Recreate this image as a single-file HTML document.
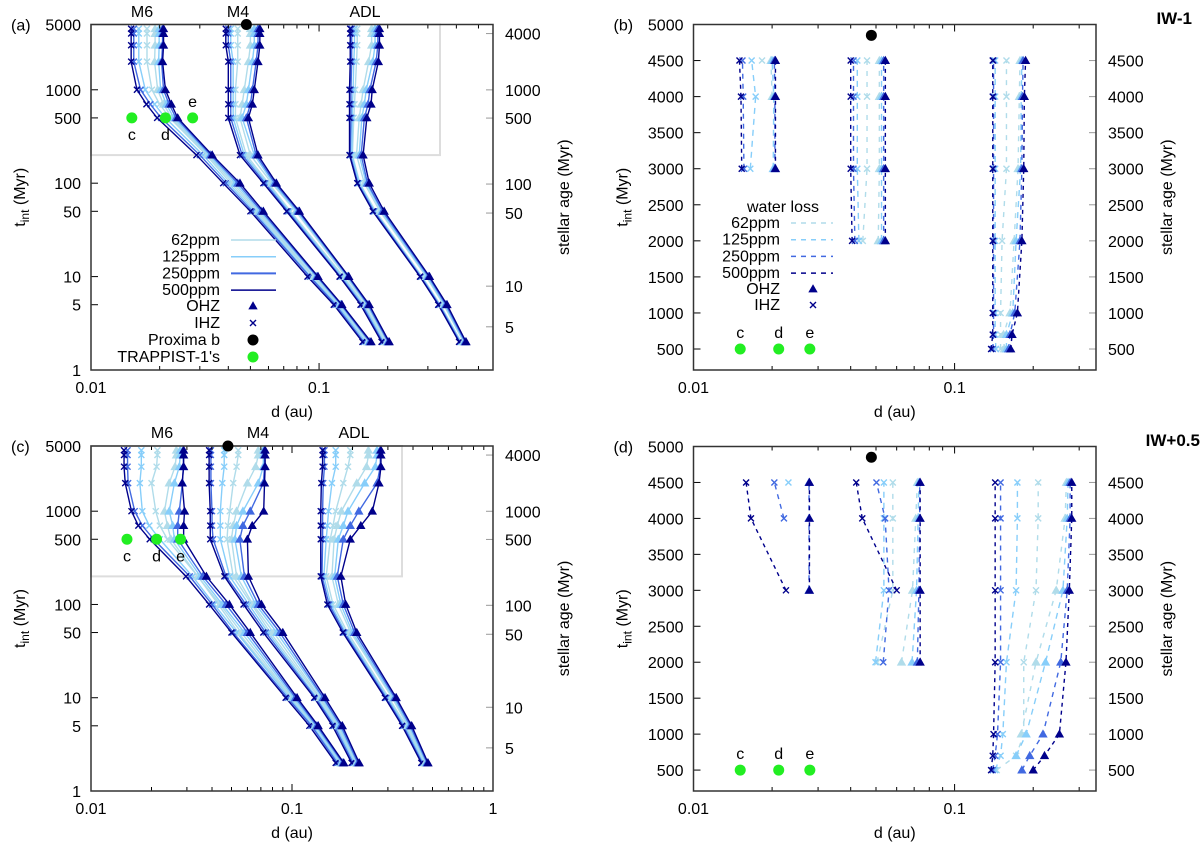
<!DOCTYPE html>
<html><head><meta charset="utf-8"><style>
html,body{margin:0;padding:0;background:#fff;}
svg{display:block;font-family:"Liberation Sans",Arial,sans-serif;}
text{fill:#000;}
</style></head><body>
<svg id="fig" width="1200" height="845" viewBox="0 0 1200 845" xmlns="http://www.w3.org/2000/svg"></svg>
<script>
// ---- shared data ----
const ppmLabels = ["500ppm","250ppm","125ppm","62ppm"];
const tLog = [2,5,10,50,100,200,500,700,1000,2000,3000,4000,4500];
const tM6 = [3000,4000,4500];
const tM4 = [2000,3000,4000,4500];
const tADL = [500,700,1000,2000,3000,4000,4500];
const trappistNames = ["c","d","e"];
const trappistD = [0.0151,0.0212,0.0279];
const trappistT = [500,500,500];
const proximaD = 0.048;
const proximaTlog = 5000;
const proximaTlin = 4850;
const logYTicks = [1,5,10,50,100,500,1000,5000];
const ageTicksLog = [5,10,50,100,500,1000,4000];
const linYTicks = [500,1000,1500,2000,2500,3000,3500,4000,4500,5000];
const linY2Ticks = [500,1000,1500,2000,2500,3000,3500,4000,4500];

// panel (a)
const a_M6_IHZ = [
 [0.155,0.116,0.089,0.050,0.038,0.029,0.0195,0.0175,0.0159,0.0150,0.0150,0.0150,0.0150],
 [0.157,0.118,0.091,0.051,0.039,0.030,0.0203,0.0182,0.0165,0.0154,0.0154,0.0154,0.0154],
 [0.160,0.120,0.092,0.052,0.040,0.031,0.0212,0.0190,0.0173,0.0162,0.0162,0.0162,0.0162],
 [0.163,0.122,0.094,0.053,0.041,0.032,0.0222,0.0200,0.0185,0.0176,0.0176,0.0176,0.0176]];
const a_M6_OHZ = [
 [0.169,0.126,0.099,0.057,0.045,0.034,0.0240,0.0225,0.0212,0.0206,0.0208,0.0208,0.0208],
 [0.167,0.125,0.098,0.056,0.044,0.0335,0.0236,0.0220,0.0208,0.0204,0.0206,0.0206,0.0206],
 [0.166,0.124,0.097,0.055,0.043,0.033,0.0231,0.0214,0.0202,0.0198,0.0199,0.0199,0.0199],
 [0.164,0.123,0.095,0.054,0.042,0.0325,0.0226,0.0208,0.0196,0.0190,0.0191,0.0191,0.0191]];
const a_M4_IHZ = [
 [0.188,0.152,0.123,0.072,0.057,0.045,0.040,0.040,0.040,0.040,0.039,0.039,0.039],
 [0.190,0.154,0.124,0.073,0.058,0.046,0.041,0.041,0.041,0.041,0.040,0.040,0.040],
 [0.192,0.156,0.126,0.074,0.059,0.047,0.042,0.042,0.042,0.042,0.041,0.041,0.041],
 [0.195,0.158,0.128,0.075,0.060,0.048,0.043,0.043,0.043,0.044,0.044,0.044,0.044]];
const a_M4_OHZ = [
 [0.203,0.166,0.135,0.082,0.065,0.054,0.049,0.051,0.052,0.054,0.055,0.055,0.055],
 [0.201,0.164,0.134,0.081,0.064,0.053,0.048,0.050,0.051,0.053,0.054,0.054,0.054],
 [0.200,0.163,0.133,0.080,0.063,0.052,0.046,0.048,0.049,0.051,0.052,0.052,0.052],
 [0.198,0.161,0.131,0.079,0.062,0.050,0.045,0.046,0.047,0.049,0.050,0.050,0.050]];
const a_ADL_IHZ = [
 [0.411,0.333,0.277,0.172,0.147,0.136,0.136,0.136,0.136,0.137,0.137,0.137,0.137],
 [0.414,0.336,0.279,0.174,0.148,0.137,0.138,0.138,0.138,0.139,0.139,0.139,0.139],
 [0.417,0.338,0.281,0.175,0.150,0.139,0.140,0.140,0.141,0.142,0.143,0.143,0.143],
 [0.420,0.340,0.283,0.177,0.151,0.140,0.142,0.143,0.144,0.146,0.147,0.147,0.147]];
const a_ADL_OHZ = [
 [0.441,0.364,0.305,0.193,0.166,0.156,0.162,0.169,0.171,0.182,0.184,0.184,0.184],
 [0.437,0.360,0.302,0.190,0.163,0.153,0.158,0.164,0.167,0.178,0.181,0.181,0.181],
 [0.434,0.356,0.298,0.188,0.161,0.150,0.154,0.158,0.161,0.172,0.176,0.176,0.176],
 [0.430,0.352,0.295,0.185,0.158,0.146,0.150,0.153,0.156,0.165,0.170,0.170,0.170]];

// panel (c)
const c_M6_IHZ = [
 [0.165,0.122,0.093,0.050,0.0387,0.0297,0.0196,0.0172,0.0159,0.0148,0.0146,0.0146,0.0146],
 [0.168,0.125,0.095,0.051,0.040,0.031,0.0205,0.0180,0.0165,0.0153,0.0152,0.0152,0.0152],
 [0.171,0.127,0.097,0.053,0.041,0.032,0.0220,0.0195,0.0180,0.0175,0.0178,0.0178,0.0178],
 [0.174,0.130,0.099,0.054,0.043,0.034,0.0240,0.0220,0.0210,0.0200,0.0212,0.0214,0.0214]];
const c_M6_OHZ = [
 [0.181,0.135,0.106,0.062,0.0488,0.0375,0.0289,0.0289,0.0292,0.0284,0.0289,0.0289,0.0289],
 [0.179,0.133,0.104,0.060,0.047,0.036,0.0270,0.0270,0.0275,0.0285,0.0288,0.0288,0.0288],
 [0.177,0.131,0.102,0.058,0.045,0.035,0.0260,0.0255,0.0245,0.0260,0.0275,0.0278,0.0278],
 [0.176,0.130,0.100,0.056,0.044,0.034,0.0250,0.0240,0.0232,0.0245,0.0262,0.0266,0.0266]];
const c_M4_IHZ = [
 [0.198,0.159,0.129,0.072,0.0574,0.0461,0.0392,0.0392,0.0392,0.0387,0.0387,0.0387,0.0387],
 [0.201,0.162,0.131,0.074,0.059,0.047,0.0405,0.0400,0.0400,0.0395,0.0395,0.0395,0.0395],
 [0.204,0.165,0.133,0.076,0.061,0.049,0.0440,0.0440,0.0440,0.0450,0.0460,0.0460,0.0460],
 [0.207,0.168,0.136,0.078,0.063,0.051,0.0475,0.0480,0.0490,0.0510,0.0530,0.0540,0.0540]];
const c_M4_OHZ = [
 [0.216,0.178,0.146,0.090,0.0705,0.0607,0.060,0.0634,0.0723,0.0730,0.0735,0.0735,0.0735],
 [0.213,0.175,0.143,0.087,0.068,0.058,0.055,0.057,0.062,0.072,0.073,0.073,0.073],
 [0.211,0.172,0.141,0.084,0.066,0.056,0.052,0.053,0.057,0.068,0.072,0.072,0.072],
 [0.209,0.170,0.138,0.081,0.064,0.053,0.050,0.051,0.053,0.060,0.066,0.068,0.068]];
const c_ADL_IHZ = [
 [0.440,0.353,0.290,0.179,0.150,0.139,0.139,0.139,0.139,0.140,0.142,0.142,0.142],
 [0.445,0.358,0.294,0.182,0.153,0.141,0.142,0.142,0.142,0.143,0.145,0.145,0.145],
 [0.450,0.364,0.298,0.185,0.156,0.144,0.148,0.150,0.152,0.158,0.165,0.165,0.165],
 [0.455,0.370,0.303,0.189,0.160,0.148,0.155,0.160,0.165,0.180,0.190,0.195,0.195]];
const c_ADL_OHZ = [
 [0.475,0.394,0.330,0.210,0.185,0.175,0.195,0.220,0.251,0.271,0.277,0.277,0.277],
 [0.470,0.388,0.325,0.205,0.180,0.168,0.180,0.195,0.215,0.265,0.275,0.275,0.275],
 [0.465,0.382,0.320,0.200,0.175,0.163,0.170,0.180,0.190,0.230,0.260,0.265,0.265],
 [0.460,0.376,0.315,0.196,0.170,0.158,0.162,0.168,0.176,0.210,0.235,0.240,0.240]];

// panel (b) IW-1
const b_M6_IHZ = [[0.0153,0.0152,0.0150],[0.0156,0.0155,0.0154],[0.0165,0.0173,0.0167],[null,null,0.0183]];
const b_M6_OHZ = [[0.0206,0.0206,0.0206],[0.0205,0.0205,0.0204],[0.0202,0.0203,0.0200],[null,0.0200,0.0198]];
const b_M4_IHZ = [[0.0405,0.0400,0.0400,0.0400],[0.0415,0.041,0.041,0.041],[0.043,0.0424,0.0424,0.0424],[0.0445,0.0462,0.0462,0.0462]];
const b_M4_OHZ = [[0.0543,0.0543,0.0543,0.0543],[0.0535,0.0535,0.0535,0.0535],[0.0525,0.0525,0.0525,0.0525],[0.051,0.0515,0.0515,0.0515]];
const b_ADL_IHZ = [[0.138,0.140,0.140,0.140,0.140,0.140,0.140],[0.140,0.141,0.141,0.141,0.141,0.141,0.141],[0.144,0.143,0.143,0.143,0.143,0.143,0.143],[0.150,0.150,0.150,0.152,0.158,0.158,0.158]];
const b_ADL_OHZ = [[0.164,0.166,0.174,0.181,0.184,0.185,0.187],[0.161,0.163,0.170,0.178,0.181,0.182,0.183],[0.158,0.158,0.167,0.172,0.179,0.180,0.181],[0.155,0.154,0.163,0.169,0.175,0.177,0.178]];

// panel (d) IW+0.5
const d_M6_IHZ = [[0.0226,0.0166,0.0159],[null,0.0222,0.0204],[null,null,0.0231],[null,null,null]];
const d_M6_OHZ = [[0.0278,0.0278,0.0278],[0.0277,0.0277,0.0277],[null,null,null],[null,null,null]];
const d_M4_IHZ = [[null,0.0600,0.0443,0.0420],[0.0533,0.0561,0.0542,0.0502],[0.0498,0.0536,0.0536,0.0536],[0.0505,0.058,0.058,0.058]];
const d_M4_OHZ = [[0.0738,0.0738,0.0738,0.0738],[0.0720,0.0730,0.0735,0.0735],[0.0687,0.0715,0.0725,0.0730],[0.0626,0.0690,0.0710,0.0720]];
const d_ADL_IHZ = [[0.138,0.140,0.141,0.143,0.143,0.143,0.143],[0.140,0.143,0.146,0.150,0.150,0.150,0.150],[0.143,0.150,0.153,0.158,0.172,0.174,0.174],[0.145,0.172,0.184,0.184,0.205,0.209,0.209]];
const d_ADL_OHZ = [[0.200,0.221,0.252,0.267,0.275,0.281,0.281],[0.181,0.194,0.218,0.255,0.270,0.277,0.277],[null,0.172,0.188,0.223,0.260,0.270,0.272],[null,null,0.180,0.205,0.245,0.265,0.268]];

// ---- drawing ----
const NS = "http://www.w3.org/2000/svg";
const svg = document.getElementById("fig");
const COLORS = ["#00008b","#4169e1","#87cefa","#b0dcea"]; // 500,250,125,62
const DASH = ["4,4","5,5","6,5","5,6"];
function mk(tag, attrs, parent){
  const e = document.createElementNS(NS, tag);
  for (const k in attrs) e.setAttribute(k, attrs[k]);
  (parent||svg).appendChild(e);
  return e;
}
function txt(x,y,s,anchor,size,parent,extra){
  const t = mk("text",{x:x,y:y,"text-anchor":anchor||"middle","font-size":size||16},parent);
  if (extra) for (const k in extra) t.setAttribute(k, extra[k]);
  t.textContent = s;
  return t;
}
function makePanel(o){
  const g = mk("g",{});
  
  
  const xs = v => o.L + (Math.log10(v) - Math.log10(o.xmin)) / (Math.log10(o.xmax) - Math.log10(o.xmin)) * (o.R - o.L);
  const ys = o.ylog
    ? v => o.B - (Math.log10(v) - Math.log10(o.ymin)) / (Math.log10(o.ymax) - Math.log10(o.ymin)) * (o.B - o.T)
    : v => o.B - (v - o.ymin) / (o.ymax - o.ymin) * (o.B - o.T);
  return {g, xs, ys, o};
}
function drawFrame(P){
  const {g, xs, ys, o} = P;
  // x ticks
  const lo = Math.floor(Math.log10(o.xmin)), hi = Math.ceil(Math.log10(o.xmax));
  for (let e = lo; e <= hi; e++){
    for (let m = 1; m < 10; m++){
      const v = m * Math.pow(10, e);
      if (v < o.xmin*0.999 || v > o.xmax*1.001) continue;
      const x = xs(v), len = m === 1 ? 7 : 4;
      mk("line",{x1:x,y1:o.B,x2:x,y2:o.B-len,stroke:"#000","stroke-width":1},g);
      mk("line",{x1:x,y1:o.T,x2:x,y2:o.T+len,stroke:"#000","stroke-width":1},g);
      if (m === 1){
        const lab = txt(x, o.B+23, String(v), "middle", 16, g);
        
        
      }
    }
  }
  // left y ticks
  o.yTicks.forEach(v => {
    const y = ys(v);
    mk("line",{x1:o.L,y1:y,x2:o.L+7,y2:y,stroke:"#000"},g);
    const lab = txt(o.L-10, y+6, String(v), "end", 16, g);
    
    
  });
  // right y2 ticks
  o.y2Ticks.forEach(v => {
    const y = ys(o.ylog ? v - 2.1 : v);
    mk("line",{x1:o.R,y1:y,x2:o.R-7,y2:y,stroke:"#999"},g);
    const lab = txt(o.R+12, y+6, String(v), "start", 16, g);
    
    
  });
  const fr = mk("rect",{x:o.L,y:o.T,width:o.R-o.L,height:o.B-o.T,fill:"none",stroke:"#333","stroke-width":1.5},g);
  
  
  // axis labels
  const xl = txt((o.L+o.R)/2, o.B+47, "d (au)", "middle", 16, g);
  
  
  const yl = mk("text",{x:0,y:0,"text-anchor":"middle","font-size":16,transform:`translate(${o.L-66},${(o.T+o.B)/2}) rotate(-90)`},g);
  
  
  yl.innerHTML = 't<tspan font-size="12" dy="4">int</tspan><tspan dy="-4"> (Myr)</tspan>';
  const y2 = mk("text",{x:0,y:0,"text-anchor":"middle","font-size":16,transform:`translate(${o.R+76},${(o.T+o.B)/2}) rotate(-90)`},g);
  
  
  y2.textContent = "stellar age (Myr)";
  const pl = txt(o.L-80, o.T+6, "(" + o.id + ")", "start", 16, g);
  
  
}
function cross(g,x,y,c){
  const p = mk("path",{d:`M${x-3},${y-3}L${x+3},${y+3}M${x-3},${y+3}L${x+3},${y-3}`,stroke:c,"stroke-width":1.4,fill:"none"},g);
  
  
}
function tri(g,x,y,c){
  const p = mk("path",{d:`M${x},${y-4}L${x+4},${y+3}L${x-4},${y+3}Z`,fill:c,stroke:c,"stroke-width":0.8},g);
  
  
}
function series(P, T, sets, kind, dashed){
  const {g, xs, ys} = P;
  for (let k = 3; k >= 0; k--){
    const vals = sets[k], c = COLORS[k];
    const pts = [];
    T.forEach((t,i) => { if (vals[i] != null) pts.push([xs(vals[i]), ys(t)]); });
    if (pts.length > 1){
      const pl = mk("polyline",{points:pts.map(p=>p.join(",")).join(" "),fill:"none",stroke:c,"stroke-width":1.4},g);
      if (dashed) pl.setAttribute("stroke-dasharray", DASH[k]);
      
      
    }
    pts.forEach(p => kind === "ihz" ? cross(g,p[0],p[1],c) : tri(g,p[0],p[1],c));
  }
}
function planets(P, tProx, lblAbove){
  const {g, xs, ys} = P;
  trappistD.forEach((d,i) => {
    const x = xs(d), y = ys(trappistT[i]);
    const c = mk("circle",{cx:x,cy:y,r:5.5,fill:"#22ee22"},g);
    
    
    const ly = lblAbove === "all" ? y-11 : (lblAbove === "e" && i === 2 ? y-11 : y+22);
    const t = txt(x, ly, trappistNames[i], "middle", 16, g);
    
    
  });
  const pc = mk("circle",{cx:xs(proximaD),cy:ys(tProx),r:5.5,fill:"#000"},g);
  
  
}
function starLabels(P, names, xsPix, y){
  names.forEach((n,i) => {
    const t = txt(xsPix[i], y, n, "middle", 16, P.g);
    
    
  });
}

// Panel a
const Pa = makePanel({id:"a",L:91,R:493,T:24.5,B:370,xmin:0.01,xmax:0.579,ylog:true,ymin:1,ymax:5000,yTicks:logYTicks,y2Ticks:ageTicksLog});
mk("rect",{x:91,y:24.5,width:349,height:Pa.ys(200)-24.5,fill:"none",stroke:"#ddd","stroke-width":2},Pa.g);
[[a_M6_IHZ,a_M6_OHZ],[a_M4_IHZ,a_M4_OHZ],[a_ADL_IHZ,a_ADL_OHZ]].forEach(s => { series(Pa,tLog,s[0],"ihz",false); series(Pa,tLog,s[1],"ohz",false); });
drawFrame(Pa);
planets(Pa, proximaTlog, "e");
starLabels(Pa, ["M6","M4","ADL"], [142,238,365], 17);

// Panel c
const Pc = makePanel({id:"c",L:91,R:493,T:446,B:791,xmin:0.01,xmax:1,ylog:true,ymin:1,ymax:5000,yTicks:logYTicks,y2Ticks:ageTicksLog});
mk("rect",{x:91,y:446,width:311,height:Pc.ys(200)-446,fill:"none",stroke:"#ddd","stroke-width":2},Pc.g);
[[c_M6_IHZ,c_M6_OHZ],[c_M4_IHZ,c_M4_OHZ],[c_ADL_IHZ,c_ADL_OHZ]].forEach(s => { series(Pc,tLog,s[0],"ihz",false); series(Pc,tLog,s[1],"ohz",false); });
drawFrame(Pc);
planets(Pc, proximaTlog, "none");
starLabels(Pc, ["M6","M4","ADL"], [162,258,354], 438);

// Panel b
const Pb = makePanel({id:"b",L:693.5,R:1096,T:24.5,B:370,xmin:0.01,xmax:0.348,ylog:false,ymin:209,ymax:5000,yTicks:linYTicks,y2Ticks:linY2Ticks});
[[tM6,b_M6_IHZ,b_M6_OHZ],[tM4,b_M4_IHZ,b_M4_OHZ],[tADL,b_ADL_IHZ,b_ADL_OHZ]].forEach(s => { series(Pb,s[0],s[1],"ihz",true); series(Pb,s[0],s[2],"ohz",true); });
drawFrame(Pb);
planets(Pb, proximaTlin, "all");

// Panel d
const Pd = makePanel({id:"d",L:693.5,R:1096,T:446.5,B:791,xmin:0.01,xmax:0.348,ylog:false,ymin:209,ymax:5000,yTicks:linYTicks,y2Ticks:linY2Ticks});
[[tM6,d_M6_IHZ,d_M6_OHZ],[tM4,d_M4_IHZ,d_M4_OHZ],[tADL,d_ADL_IHZ,d_ADL_OHZ]].forEach(s => { series(Pd,s[0],s[1],"ihz",true); series(Pd,s[0],s[2],"ohz",true); });
drawFrame(Pd);
planets(Pd, proximaTlin, "all");

// titles
const t1 = txt(1192, 24, "IW-1", "end", 17, svg, {"font-weight":"bold"});


const t2 = txt(1200, 446, "IW+0.5", "end", 17, svg, {"font-weight":"bold"});



// legend a
const legA = mk("g",{});


const legOrder = [3,2,1,0];
legOrder.forEach((k,i) => {
  const y = 240 + i*16.7;
  const t = txt(220, y+5, ppmLabels[k], "end", 16, legA);
  
  
  mk("line",{x1:231,y1:y,x2:276,y2:y,stroke:COLORS[k],"stroke-width":k===1?2:1.5},legA);
});
[["OHZ",306],["IHZ",323],["Proxima b",340],["TRAPPIST-1's",357]].forEach((e,i) => {
  const t = txt(220, e[1]+5, e[0], "end", 16, legA);
  
  
});
tri(legA,253,306,"#00008b"); cross(legA,253,323,"#00008b");
mk("circle",{cx:253,cy:340,r:5.5,fill:"#000"},legA);
mk("circle",{cx:253,cy:357,r:5.5,fill:"#22ee22"},legA);

// legend b
const legB = mk("g",{});


const wl = txt(783, 212, "water loss", "middle", 16, legB);


legOrder.forEach((k,i) => {
  const y = 223 + i*16.7;
  const t = txt(780, y+5, ppmLabels[k], "end", 16, legB);
  
  
  mk("line",{x1:791,y1:y,x2:833,y2:y,stroke:COLORS[k],"stroke-width":1.5,"stroke-dasharray":"5,5"},legB);
});
[["OHZ",289],["IHZ",305]].forEach(e => {
  const t = txt(780, e[1]+5, e[0], "end", 16, legB);
  
  
});
tri(legB,813,289,"#00008b"); cross(legB,813,305,"#00008b");
</script>
</body></html>
